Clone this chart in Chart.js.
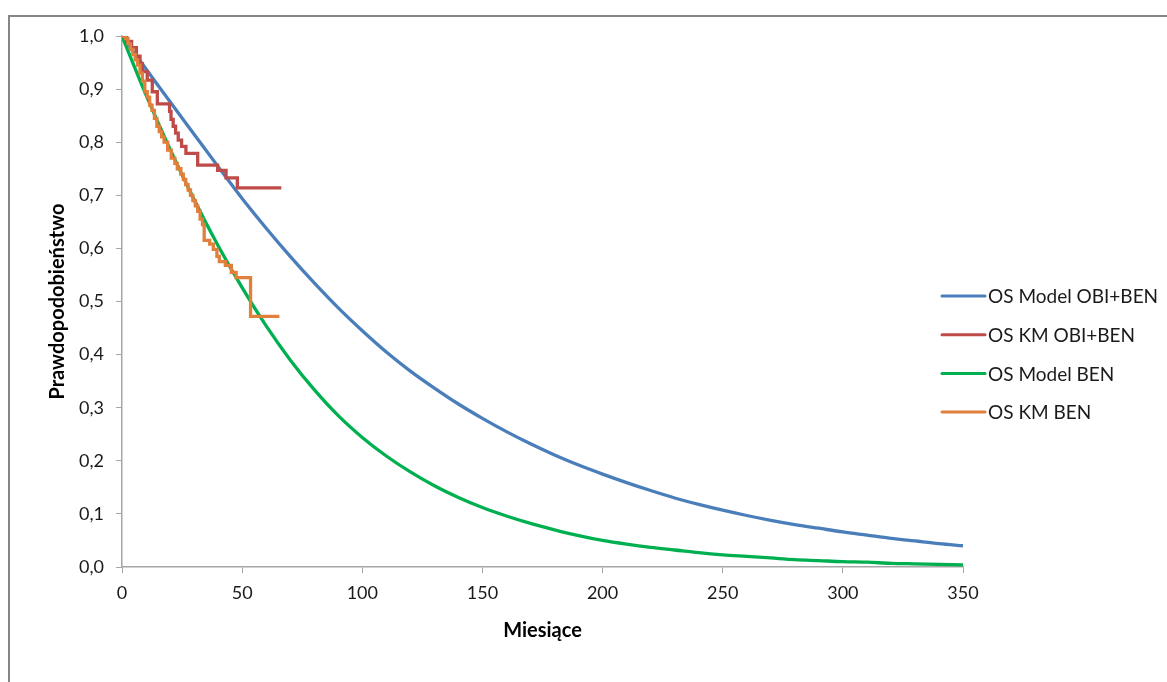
<!DOCTYPE html>
<html>
<head>
<meta charset="utf-8">
<script src="https://cdn.jsdelivr.net/npm/chart.js@4.4.0/dist/chart.umd.min.js"></script>
<style>
  html, body { margin: 0; padding: 0; background: #fff; overflow: hidden; }
  #wrap { position: relative; width: 1167px; height: 682px; }
  #frame { position: absolute; left: 8px; top: 15px; width: 1200px; height: 700px;
           border-left: 2px solid #868686; border-top: 2px solid #868686; pointer-events: none; }
</style>
</head>
<body>
<div id="wrap">
  <canvas id="osChart" width="1167" height="682"></canvas>
  <div id="frame"></div>
</div>
<script>
// model curves, read every 10 months
const months = [0, 10, 20, 30, 40, 50, 60, 70, 80, 90, 100, 110, 120, 130, 140, 150, 160, 170,
  180, 190, 200, 210, 220, 230, 240, 250, 260, 270, 280, 290, 300, 310, 320, 330, 340, 350];
const modelObiBen = [1.0, 0.938, 0.876, 0.815, 0.754, 0.694, 0.638, 0.585, 0.535, 0.488, 0.445, 0.405,
  0.369, 0.337, 0.307, 0.280, 0.255, 0.232, 0.211, 0.192, 0.175, 0.159, 0.144, 0.130, 0.118, 0.107,
  0.097, 0.088, 0.080, 0.073, 0.066, 0.060, 0.054, 0.049, 0.044, 0.040];
const modelBen = [1.0, 0.889, 0.787, 0.692, 0.605, 0.526, 0.454, 0.390, 0.334, 0.285, 0.244, 0.209,
  0.179, 0.153, 0.131, 0.112, 0.096, 0.082, 0.070, 0.059, 0.050, 0.043, 0.037, 0.032, 0.027, 0.023,
  0.020, 0.017, 0.014, 0.012, 0.010, 0.009, 0.007, 0.006, 0.005, 0.004];

// Kaplan-Meier steps (event month, survival after event)
const kmObiMonths = [0, 2, 4, 6, 7.5, 8.5, 10.5, 12.6, 14.7, 19.8, 20.4, 21.3, 22.3, 23.4, 24.8, 26.6,
  31.5, 39.8, 43.3, 48.0, 66.3];
const kmObiSurv = [1.0, 0.99, 0.978, 0.962, 0.948, 0.933, 0.917, 0.895, 0.872, 0.858, 0.843, 0.830,
  0.817, 0.804, 0.792, 0.779, 0.757, 0.747, 0.733, 0.714, 0.714];
const kmBenMonths = [0, 1.5, 2.5, 3.5, 4.5, 5.5, 6.5, 7.5, 8.5, 9.5, 10.5, 11.5, 12.5, 13.5, 14.5, 15.5,
  16.5, 17.5, 19, 20.5, 22, 23, 24.5, 25.5, 26.5, 27.5, 28.5, 29.5, 30.5, 31.5, 32.5, 33.5, 34.2, 36.5,
  38, 39.5, 40.5, 43, 45.5, 47.5, 53.5, 65.5];
const kmBenSurv = [1.0, 0.995, 0.985, 0.975, 0.965, 0.955, 0.945, 0.93, 0.915, 0.895, 0.885, 0.87, 0.86,
  0.845, 0.83, 0.82, 0.81, 0.80, 0.785, 0.77, 0.76, 0.75, 0.74, 0.73, 0.72, 0.71, 0.70, 0.69, 0.68, 0.67,
  0.655, 0.645, 0.615, 0.608, 0.598, 0.585, 0.575, 0.568, 0.555, 0.545, 0.472, 0.472];

const seriesLabels = ["OS Model OBI+BEN", "OS KM OBI+BEN", "OS Model BEN", "OS KM BEN"];
const seriesColors = ["#4a7ebb", "#be4b48", "#00b050", "#e0803a"];

const pairs = (xs, ys) => xs.map((x, i) => ({ x, y: ys[i] }));
const axisGray = "#a6a6a6";
const font = "Lato";

// legend drawn as short lines next to text, like the spreadsheet one
const lineLegend = {
  id: "lineLegend",
  afterDraw(chart, args, opts) {
    const ctx = chart.ctx;
    ctx.save();
    ctx.font = `19px ${font}`;
    ctx.textBaseline = "middle";
    chart.data.datasets.forEach((ds, i) => {
      const y = opts.top + i * opts.gap;
      ctx.strokeStyle = ds.borderColor;
      ctx.lineWidth = 3;
      ctx.lineCap = "round";
      ctx.beginPath();
      ctx.moveTo(opts.x, y);
      ctx.lineTo(opts.x + opts.len, y);
      ctx.stroke();
      ctx.fillStyle = "#1a1a1a";
      ctx.fillText(ds.label, opts.x + opts.len + 3, y + 1);
    });
    ctx.restore();
  }
};

const datasets = [
  { label: seriesLabels[0], data: pairs(months, modelObiBen), order: 4, cubicInterpolationMode: "monotone" },
  { label: seriesLabels[1], data: pairs(kmObiMonths, kmObiSurv), order: 2, stepped: true },
  { label: seriesLabels[2], data: pairs(months, modelBen), order: 3, cubicInterpolationMode: "monotone" },
  { label: seriesLabels[3], data: pairs(kmBenMonths, kmBenSurv), order: 1, stepped: true }
].map((ds, i) => Object.assign(ds, {
  borderColor: seriesColors[i],
  backgroundColor: seriesColors[i],
  borderWidth: 3.3,
  pointRadius: 0,
  fill: false
}));

new Chart(document.getElementById("osChart"), {
  type: "line",
  data: { datasets },
  options: {
    responsive: false,
    animation: false,
    devicePixelRatio: 1,
    layout: { padding: { left: 38, top: 36, right: 204, bottom: 20 } },
    plugins: {
      legend: { display: false },
      tooltip: { enabled: false },
      lineLegend: { x: 942, len: 43, top: 296, gap: 38.7 }
    },
    scales: {
      x: {
        type: "linear",
        min: 0,
        max: 350,
        afterFit: s => { s.height = 95; },
        ticks: { stepSize: 50, color: "#1a1a1a", font: { family: font, size: 18 }, padding: 9, maxRotation: 0 },
        grid: { drawOnChartArea: false, tickLength: 6, color: axisGray, tickColor: axisGray },
        border: { color: axisGray, width: 1.5 },
        title: { display: true, text: "Miesiące", color: "#000", font: { family: font, size: 20, weight: "bold" },
                 padding: { top: 4, bottom: 19 } }
      },
      y: {
        min: 0,
        max: 1,
        afterFit: s => { s.width = 84; },
        ticks: { stepSize: 0.1, color: "#1a1a1a", font: { family: font, size: 18 }, padding: 12,
                 callback: v => v.toFixed(1).replace(".", ",") },
        grid: { drawOnChartArea: false, tickLength: 6, color: axisGray, tickColor: axisGray },
        border: { color: axisGray, width: 1.5 },
        title: { display: true, text: "Prawdopodobieństwo", color: "#000",
                 font: { family: font, size: 20, weight: "bold" }, padding: { top: 8, bottom: 4 } }
      }
    }
  },
  plugins: [lineLegend]
});
</script>
</body>
</html>
